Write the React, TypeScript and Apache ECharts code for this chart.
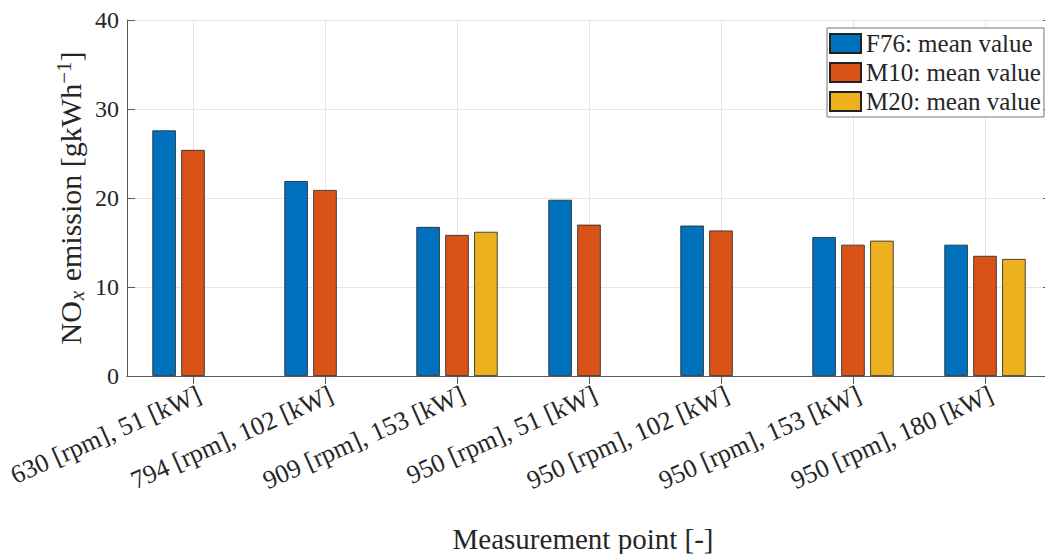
import React, { useEffect, useRef } from "react";
import * as echarts from "echarts";

const categories = [
  "630 [rpm], 51 [kW]",
  "794 [rpm], 102 [kW]",
  "909 [rpm], 153 [kW]",
  "950 [rpm], 51 [kW]",
  "950 [rpm], 102 [kW]",
  "950 [rpm], 153 [kW]",
  "950 [rpm], 180 [kW]",
];
const f76 = [27.6, 21.9, 16.75, 19.8, 16.9, 15.6, 14.75];
const m10 = [25.4, 20.9, 15.85, 17.0, 16.35, 14.75, 13.5];
const m20 = [null, null, 16.2, null, null, 15.2, 13.15];
const seriesNames = ["F76: mean value", "M10: mean value", "M20: mean value"];
const colors = ["#0072BD", "#D95319", "#EDB120"];
const yTicks = [0, 10, 20, 30, 40];

const FONT = "'Liberation Serif', 'DejaVu Serif', serif";
const TEXT = "#262626";
const AXIS = "#5a5a5a";

export default function App() {
  const ref = useRef<HTMLDivElement>(null);
  useEffect(() => {
    if (!ref.current) return;
    const chart = echarts.init(ref.current, undefined, { renderer: "svg" });
    const data = [f76, m10, m20];
    chart.setOption({
      animation: false,
      backgroundColor: "#ffffff",
      textStyle: { fontFamily: FONT, color: TEXT },
      grid: { left: 127, top: 20, width: 924, height: 356, containLabel: false, outerBoundsMode: "none" },
      legend: {
        orient: "vertical",
        left: 827,
        top: 28,
        itemWidth: 31,
        itemHeight: 19,
        itemGap: 4,
        padding: [3, 3, 3, 2],
        borderColor: "#777",
        borderWidth: 1,
        backgroundColor: "#ffffff",
        icon: "rect",
        textStyle: { fontFamily: FONT, fontSize: 25, color: TEXT, lineHeight: 22 },
        data: seriesNames,
      },
      xAxis: [
        {
          type: "category",
          data: categories,
          position: "bottom",
          name: "Measurement point [-]",
          nameLocation: "middle",
          nameGap: 148,
          nameMoveOverlap: false,
          nameTextStyle: { fontFamily: FONT, fontSize: 29, color: TEXT, padding: [0, 12, 0, 0] },
          axisLine: { show: true, lineStyle: { color: AXIS, width: 1 } },
          axisTick: { show: true, inside: true, length: 8, alignWithLabel: true, lineStyle: { color: AXIS } },
          splitLine: { show: true, alignWithLabel: true, lineStyle: { color: "#e6e6e6", width: 1 } },
          axisLabel: {
            rotate: 24,
            fontFamily: FONT,
            fontSize: 26,
            color: TEXT,
            margin: 20,
            interval: 0,
            padding: [0, -7, 0, 0],
          },
        },
        {
          type: "category",
          data: categories,
          position: "top",
          axisLine: { show: true, lineStyle: { color: AXIS, width: 1 } },
          axisTick: { show: true, inside: true, length: 8, alignWithLabel: true, lineStyle: { color: AXIS } },
          axisLabel: { show: false },
          splitLine: { show: false },
        },
      ],
      yAxis: [
        {
          type: "value",
          min: yTicks[0],
          max: yTicks[yTicks.length - 1],
          interval: 10,
          name: "{n|NO}{s|x}{n| emission [gkWh}{p|−1}{n|]}",
          nameLocation: "middle",
          nameRotate: 90,
          nameGap: 40,
          nameMoveOverlap: false,
          nameTextStyle: {
            fontFamily: FONT,
            fontSize: 30,
            color: TEXT,
            rich: {
              n: { fontFamily: FONT, fontSize: 30, color: TEXT, lineHeight: 34 },
              s: { fontFamily: FONT, fontSize: 21, fontStyle: "italic", color: TEXT, verticalAlign: "bottom", lineHeight: 26, padding: [0, 2, 0, 1] },
              p: { fontFamily: FONT, fontSize: 21, color: TEXT, verticalAlign: "top", lineHeight: 26 },
            },
          },
          axisLine: { show: true, lineStyle: { color: AXIS, width: 1 } },
          axisTick: { show: true, inside: true, length: 8, lineStyle: { color: AXIS } },
          splitLine: { show: true, lineStyle: { color: "#e6e6e6", width: 1 } },
          axisLabel: { fontFamily: FONT, fontSize: 24, color: TEXT, margin: 8 },
        },
        {
          type: "value",
          min: yTicks[0],
          max: yTicks[yTicks.length - 1],
          interval: 10,
          position: "right",
          axisLine: { show: true, lineStyle: { color: AXIS, width: 1 } },
          axisTick: { show: true, inside: true, length: 8, lineStyle: { color: AXIS } },
          axisLabel: { show: false },
          splitLine: { show: false },
        },
      ],
      series: seriesNames.map((name, i) => ({
        name,
        type: "bar",
        xAxisIndex: 0,
        yAxisIndex: 0,
        data: data[i].map((v) => (v === null ? "-" : v)),
        barWidth: 23.5,
        barGap: "23%",
        itemStyle: { color: colors[i], borderColor: "#222", borderWidth: 0.8 },
        emphasis: { disabled: true },
      })),
    });
    return () => chart.dispose();
  }, []);
  return (
    <div
      ref={ref}
      style={{ position: "absolute", left: 0, top: 0, width: 1045, height: 554, background: "#fff" }}
    />
  );
}
